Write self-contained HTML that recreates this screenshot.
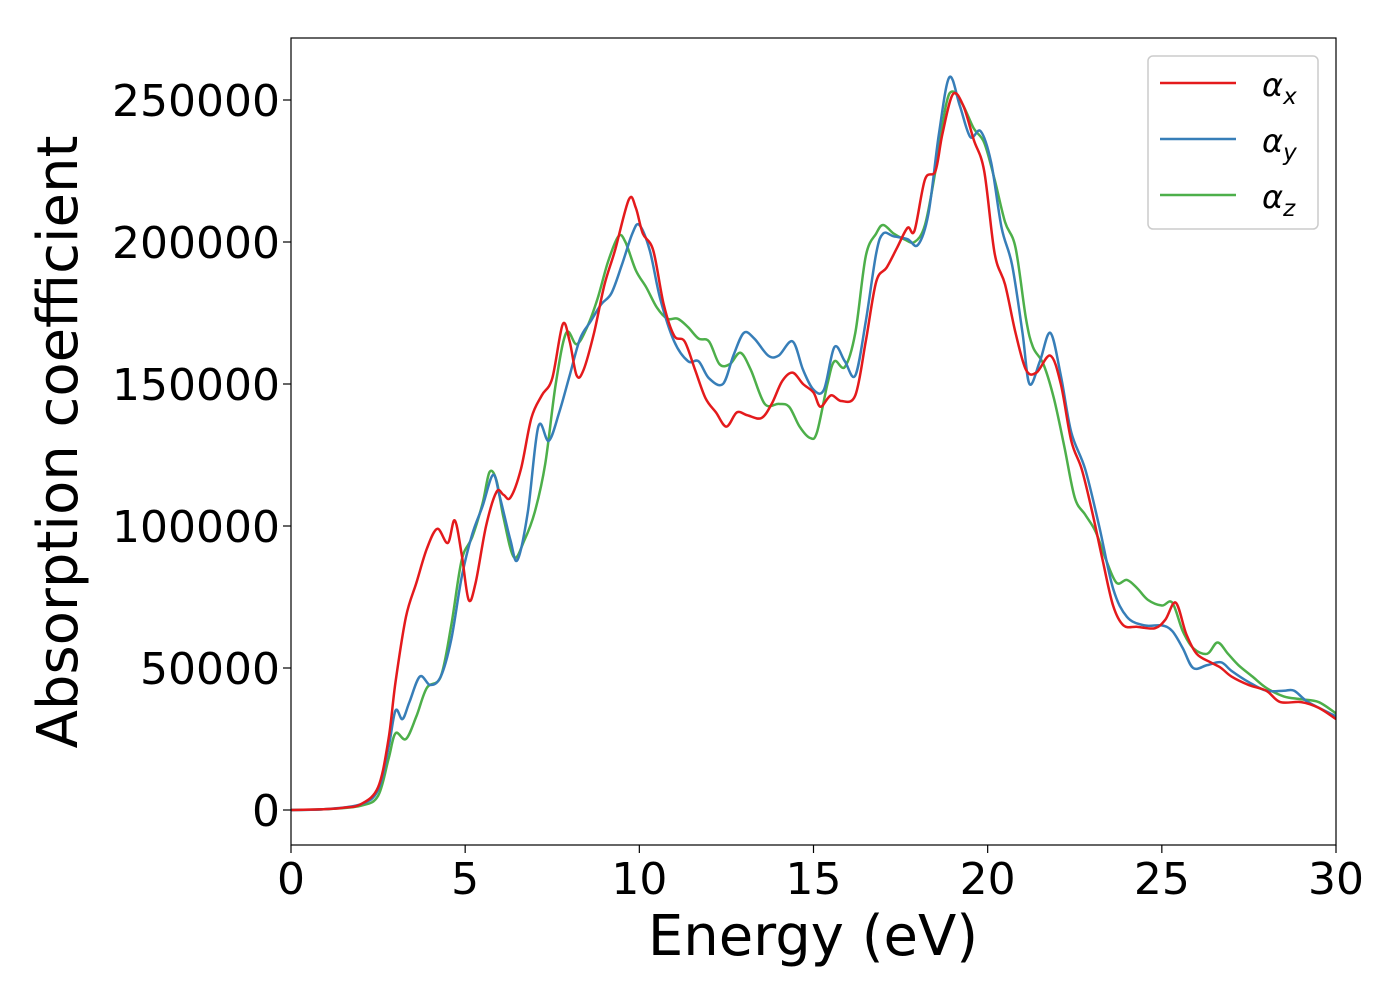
<!DOCTYPE html>
<html><head><meta charset="utf-8"><style>
body{margin:0;background:#fff}
svg text{font-family:"DejaVu Sans","Liberation Sans",sans-serif;fill:#000}
</style></head><body>
<svg id="chart" width="1400" height="1000" xmlns="http://www.w3.org/2000/svg">
<rect width="1400" height="1000" fill="#fff"/>
<g id="plot"></g>
<g id="axes"></g>
<text x="813" y="955" font-size="56" text-anchor="middle">Energy (eV)</text>
<text transform="translate(77,442) rotate(-90)" font-size="56" text-anchor="middle">Absorption coefficient</text>
<g>
<rect x="1148" y="56" width="170" height="173" rx="5" fill="#fff" stroke="#ccc" stroke-width="1.5"/>
<line x1="1160" y1="83" x2="1236" y2="83" stroke="#e41a1c" stroke-width="2.5"/>
<text x="1262" y="96" font-size="32" font-style="italic">α<tspan font-size="23" dy="8">x</tspan></text>
<line x1="1160" y1="139" x2="1236" y2="139" stroke="#377eb8" stroke-width="2.5"/>
<text x="1262" y="152" font-size="32" font-style="italic">α<tspan font-size="23" dy="8">y</tspan></text>
<line x1="1160" y1="195" x2="1236" y2="195" stroke="#4daf4a" stroke-width="2.5"/>
<text x="1262" y="208" font-size="32" font-style="italic">α<tspan font-size="23" dy="8">z</tspan></text>
</g>
</svg>
<script>
const xTicks=[0,5,10,15,20,25,30];
const yTicks=[0,50000,100000,150000,200000,250000];
const redE=[0,1,1.5,2,2.5,2.8,3.0,3.3,3.6,3.9,4.2,4.5,4.7,4.9,5.1,5.3,5.6,5.9,6.1,6.3,6.6,6.9,7.2,7.5,7.8,8.0,8.2,8.4,8.7,9.0,9.3,9.7,9.9,10.1,10.4,10.7,11.0,11.3,11.6,11.9,12.2,12.5,12.8,13.1,13.5,13.8,14.1,14.4,14.7,15.0,15.2,15.5,15.8,16.2,16.5,16.8,17.1,17.4,17.7,17.9,18.2,18.5,18.7,19.0,19.3,19.6,19.9,20.2,20.5,20.8,21.1,21.4,21.8,22.1,22.4,22.7,23.0,23.3,23.6,23.9,24.3,24.8,25.1,25.4,25.7,26.0,26.4,26.7,27.0,27.5,28.0,28.4,29.0,29.5,30];
const redV=[0,300,800,2000,8000,25000,45000,68000,80000,92000,99000,94000,102000,90000,74000,80000,100000,112000,111000,110000,120000,138000,146000,152000,171000,165000,153000,155000,168000,185000,197000,215000,212000,203000,197000,178000,167000,165000,155000,145000,140000,135000,140000,139000,138000,143000,151000,154000,150000,147000,142000,146000,144000,146000,165000,186000,191000,198000,205000,204000,222000,225000,238000,252000,248000,236000,225000,196000,185000,168000,155000,154000,160000,150000,130000,120000,105000,88000,72000,65000,64500,64000,67000,73000,62000,55000,52000,50000,47000,44000,42000,38000,38000,36000,32000];
const blueE=[0,1,2,2.5,2.8,3.0,3.2,3.4,3.7,4.0,4.3,4.6,4.9,5.2,5.5,5.8,6.0,6.3,6.5,6.8,7.1,7.4,7.7,8.0,8.3,8.6,8.9,9.2,9.5,9.8,10.0,10.3,10.6,11.0,11.4,11.7,12.0,12.4,12.7,13.0,13.3,13.7,14.0,14.4,14.7,15.0,15.3,15.6,15.9,16.2,16.5,16.8,17.0,17.3,17.7,18.0,18.3,18.6,18.9,19.2,19.5,19.8,20.1,20.4,20.7,21.0,21.2,21.5,21.8,22.1,22.4,22.8,23.2,23.6,24.0,24.5,25.0,25.3,25.6,25.9,26.3,26.7,27.0,27.5,28.0,28.5,28.8,29.2,30];
const blueV=[0,300,2000,7000,22000,35000,32000,38000,47000,44000,47000,60000,82000,97000,107000,118000,110000,95000,88000,105000,135000,130000,140000,153000,166000,172000,178000,182000,192000,203000,206000,197000,180000,165000,158000,158000,152000,150000,160000,168000,166000,160000,160000,165000,155000,148000,148000,163000,158000,153000,172000,196000,203000,202000,201000,199000,210000,238000,258000,248000,237000,239000,228000,205000,192000,168000,150000,158000,168000,153000,133000,120000,100000,78000,68000,65000,65000,63000,57000,50000,51000,52000,49000,45000,42000,42000,42000,38000,33000];
const greenE=[0,1,2,2.5,2.8,3.0,3.3,3.6,3.9,4.3,4.6,4.9,5.2,5.5,5.7,5.9,6.1,6.4,6.7,7.0,7.3,7.6,7.9,8.2,8.5,8.8,9.1,9.4,9.6,9.9,10.2,10.5,10.8,11.1,11.4,11.7,12.0,12.3,12.6,12.9,13.2,13.6,14.0,14.3,14.6,14.9,15.1,15.4,15.6,15.9,16.2,16.5,16.8,17.0,17.3,17.6,17.9,18.2,18.5,18.8,19.0,19.3,19.6,19.9,20.2,20.5,20.8,21.1,21.3,21.6,21.9,22.2,22.5,22.8,23.1,23.4,23.7,24.0,24.3,24.6,25.0,25.3,25.6,25.9,26.3,26.6,26.9,27.2,27.6,28.0,28.5,29.0,29.5,30];
const greenV=[0,300,1500,5000,18000,27000,25000,33000,43000,47000,65000,88000,96000,108000,119000,116000,103000,89000,95000,105000,122000,150000,168000,164000,170000,180000,193000,202000,200000,190000,184000,177000,173000,173000,170000,166000,165000,157000,157000,161000,155000,143000,143000,142000,135000,131000,133000,150000,158000,156000,168000,195000,203000,206000,203000,201000,200000,206000,225000,248000,253000,248000,240000,235000,222000,207000,198000,173000,163000,157000,145000,128000,110000,104000,98000,88000,80000,81000,78000,74000,72000,73000,63000,57000,55000,59000,55000,51000,47000,43000,40000,39000,38000,34000];
const X0=291,X1=1336,Y0=845,Y1=38;
const xs=e=>X0+(e-0)/(30-0)*(X1-X0);
const ys=v=>810-v*0.00284;
const NS="http://www.w3.org/2000/svg";
const plot=document.getElementById('plot'),axes=document.getElementById('axes');
function pathD(E,V){const p=E.map((e,i)=>[xs(e),ys(V[i])]);let d=`M${p[0][0]},${p[0][1]}`;
for(let i=0;i<p.length-1;i++){const a=p[Math.max(0,i-1)],b=p[i],c=p[i+1],n=p[Math.min(p.length-1,i+2)];
d+=` C${b[0]+(c[0]-a[0])/6},${b[1]+(c[1]-a[1])/6} ${c[0]-(n[0]-b[0])/6},${c[1]-(n[1]-b[1])/6} ${c[0]},${c[1]}`;}return d;}
[[greenE,greenV,'#4daf4a','series-alpha-z'],[blueE,blueV,'#377eb8','series-alpha-y'],[redE,redV,'#e41a1c','series-alpha-x']].forEach(s=>{
const el=document.createElementNS(NS,'path');el.setAttribute('d',pathD(s[0],s[1]));el.setAttribute('fill','none');el.setAttribute('stroke',s[2]);el.setAttribute('stroke-width','2.5');


plot.appendChild(el);});
plot.setAttribute('clip-path','url(#cp)');
const defs=document.createElementNS(NS,'defs');defs.innerHTML=`<clipPath id="cp"><rect x="${X0}" y="${Y1}" width="${X1-X0}" height="${Y0-Y1}"/></clipPath>`;document.getElementById('chart').prepend(defs);
const frame=document.createElementNS(NS,'rect');frame.setAttribute('x',X0);frame.setAttribute('y',Y1);frame.setAttribute('width',X1-X0);frame.setAttribute('height',Y0-Y1);frame.setAttribute('fill','none');frame.setAttribute('stroke','#000');frame.setAttribute('stroke-width','1.2');


axes.appendChild(frame);
xTicks.forEach(t=>{const x=xs(t);const l=document.createElementNS(NS,'line');l.setAttribute('x1',x);l.setAttribute('x2',x);l.setAttribute('y1',Y0);l.setAttribute('y2',Y0+8);l.setAttribute('stroke','#000');l.setAttribute('stroke-width','1.2');


axes.appendChild(l);
const tx=document.createElementNS(NS,'text');tx.setAttribute('x',x);tx.setAttribute('y',894);tx.setAttribute('font-size','44');tx.setAttribute('text-anchor','middle');tx.textContent=t;


axes.appendChild(tx);});
yTicks.forEach(t=>{const y=ys(t);const l=document.createElementNS(NS,'line');l.setAttribute('x1',X0-8);l.setAttribute('x2',X0);l.setAttribute('y1',y);l.setAttribute('y2',y);l.setAttribute('stroke','#000');l.setAttribute('stroke-width','1.2');


axes.appendChild(l);
const tx=document.createElementNS(NS,'text');tx.setAttribute('x',280);tx.setAttribute('y',y+16);tx.setAttribute('font-size','44');tx.setAttribute('text-anchor','end');tx.textContent=t;


axes.appendChild(tx);});
</script>
</body></html>
